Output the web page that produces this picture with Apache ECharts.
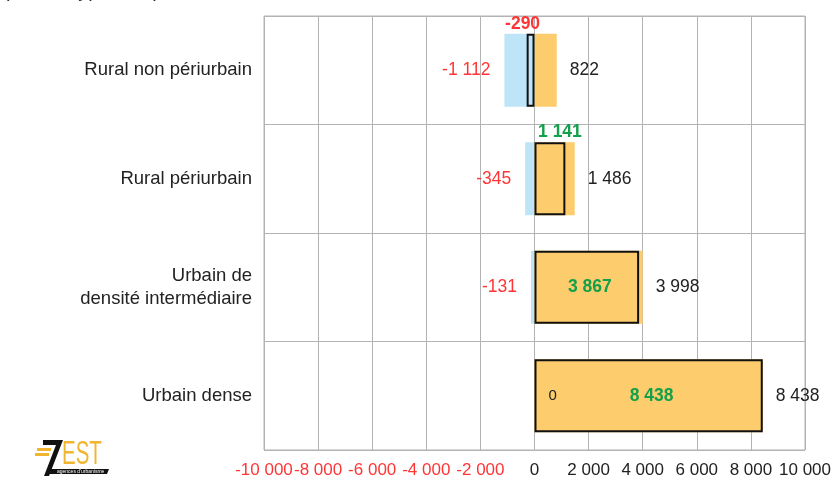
<!DOCTYPE html>
<html>
<head>
<meta charset="utf-8">
<script src="https://cdn.jsdelivr.net/npm/echarts@6/dist/echarts.min.js"></script>
<style>
  html, body { margin: 0; padding: 0; background: #fff; }
  #main { width: 834px; height: 479px; }
</style>
</head>
<body>
<div id="main"></div>
<script>
// données
const categories = ['Rural non périurbain', 'Rural périurbain', 'Urbain de\ndensité intermédiaire', 'Urbain dense'];
const negatives = [-1112, -345, -131, 0];
const positives = [822, 1486, 3998, 8438];
const soldes = [-290, 1141, 3867, 8438];
const xTicks = [-10000, 10000, 2000]; // min, max, pas

const FONT = 'Liberation Sans, Arial, sans-serif';
const RED = '#ff3535';
const GREEN = '#12a04a';
const GREY = '#b3b3b3';

// position des étiquettes de solde (haut pour les petites barres)
const soldeLabelPos = ['top', 'top', 'inside', 'inside'];
const soldeLabelOffset = [[-8, 0], [10, 0], [3, 0], [3, 0]];

const fmt = v => {
  const s = Math.abs(v).toString().replace(/\B(?=(\d{3})+(?!\d))/g, ' ');
  return (v < 0 ? '-' : '') + s;
};

const chart = echarts.init(document.getElementById('main'));

const option = {
  animation: false,
  textStyle: { fontFamily: FONT },
  grid: {
    left: 264, right: 29, top: 16, bottom: 29,
    show: true, borderColor: GREY, borderWidth: 1
  },
  xAxis: {
    type: 'value',
    min: xTicks[0], max: xTicks[1], interval: xTicks[2],
    axisLine: { show: false },
    axisTick: { show: false },
    splitLine: { show: true, lineStyle: { color: GREY, width: 1 } },
    axisLabel: {
      margin: 12,
      fontSize: 17,
      fontFamily: FONT,
      showMinLabel: true,
      showMaxLabel: true,
      hideOverlap: false,
      formatter: v => fmt(v),
      color: v => (Number(v) < 0 ? RED : '#222')
    }
  },
  yAxis: {
    type: 'category',
    inverse: true,
    data: categories,
    axisLine: { show: false },
    axisTick: { show: false },
    splitLine: { show: true, lineStyle: { color: GREY, width: 1 } },
    axisLabel: {
      margin: 12,
      fontSize: 18.5,
      lineHeight: 23,
      color: '#222',
      fontFamily: FONT,
      align: 'right'
    }
  },
  series: [
    {
      name: 'négatif',
      type: 'bar',
      barWidth: 73,
      barGap: '-100%',
      itemStyle: { color: '#bee4f8' },
      data: negatives.map(v => v === 0
        ? { value: v, label: { position: 'right', distance: 14, color: '#222', fontSize: 15 } }
        : v),
      label: {
        show: true,
        position: 'outside',
        distance: 14,
        color: RED,
        fontSize: 17.5,
        fontFamily: FONT,
        formatter: p => fmt(p.value)
      }
    },
    {
      name: 'positif',
      type: 'bar',
      barWidth: 73,
      barGap: '-100%',
      itemStyle: { color: '#fdcc6c' },
      data: positives,
      label: {
        show: true,
        position: 'right',
        distance: 13,
        color: '#222',
        fontSize: 17.5,
        fontFamily: FONT,
        formatter: p => fmt(p.value)
      }
    },
    {
      name: 'solde',
      type: 'bar',
      barWidth: 73,
      barGap: '-100%',
      z: 5,
      itemStyle: { color: 'rgba(0,0,0,0)', borderColor: '#111', borderWidth: 2 },
      data: soldes.map((v, i) => ({
        value: v,
        label: {
          position: soldeLabelPos[i],
          offset: soldeLabelOffset[i],
          distance: 1,
          color: v < 0 ? RED : GREEN
        }
      })),
      label: {
        show: true,
        fontSize: 17.5,
        fontWeight: 'bold',
        fontFamily: FONT,
        formatter: p => fmt(p.value)
      }
    }
  ],
  graphic: [
    // titre coupé en haut de l'image
    {
      type: 'text', left: 6, top: -19,
      style: { text: 'pour le type d\'espace', font: '20px ' + FONT, fill: '#333' }
    },
    // logo
    {
      type: 'group', left: 35, top: 438,
      children: [
        { type: 'rect', shape: { x: 2, y: 10, width: 14, height: 3 }, style: { fill: '#f2b530' } },
        { type: 'rect', shape: { x: 0, y: 15, width: 14, height: 3 }, style: { fill: '#f2b530' } },
        { type: 'polygon', shape: { points: [[8, 2], [28, 2], [14, 38], [9, 38], [21, 7], [8, 7]] }, style: { fill: '#111' } },
        { type: 'text', x: 27, y: 0, scaleX: 0.62, style: { text: 'EST', font: '33px ' + FONT, fill: '#f2b530' } },
        { type: 'polygon', shape: { points: [[15, 31], [74, 31], [72, 36], [13, 36]] }, style: { fill: '#111' } },
        { type: 'text', x: 22, y: 31, style: { text: "agences d'urbanisme", font: '5px ' + FONT, fill: '#fff' } }
      ]
    }
  ]
};

chart.setOption(option);
</script>
</body>
</html>
